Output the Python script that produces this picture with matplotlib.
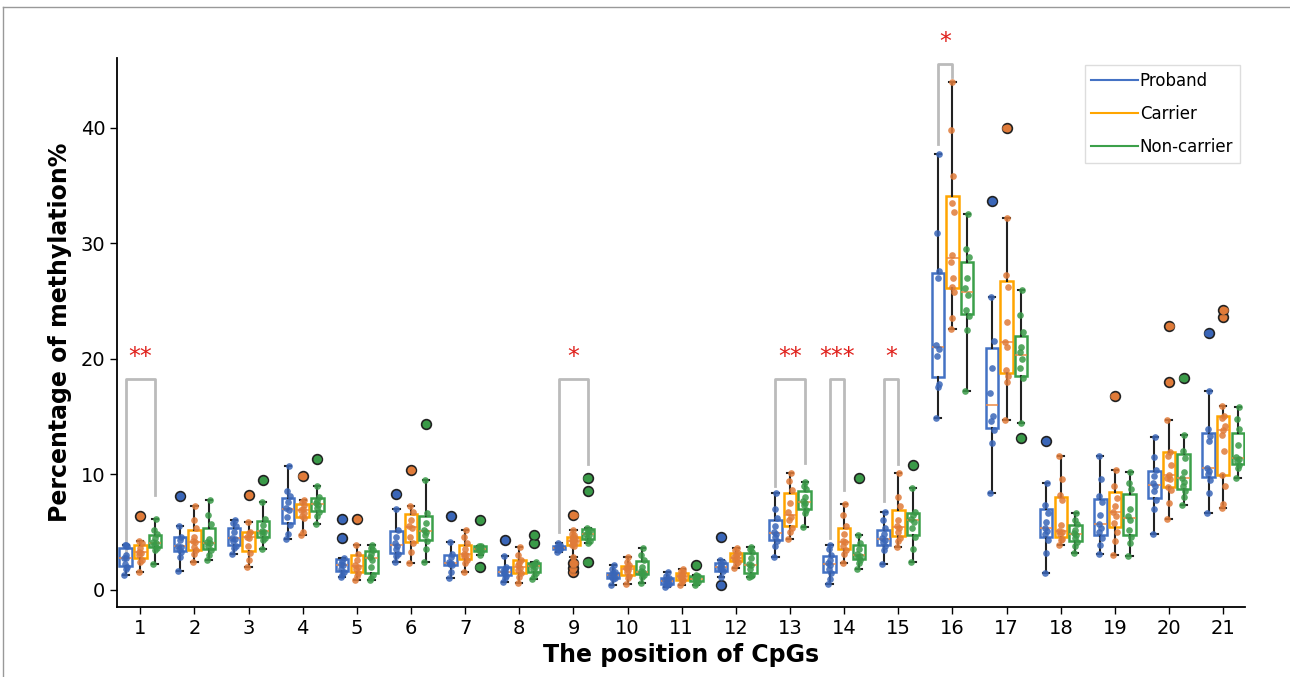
import matplotlib
matplotlib.use("Agg")
import matplotlib.pyplot as plt
from matplotlib.lines import Line2D
import numpy as np

CPGS = [str(i) for i in range(1, 22)]
GROUPS = ["Proband", "Carrier", "Non-carrier"]

# methylation % per CpG, one list per sample group
PROBAND = [
    [1.3, 1.8, 2.0, 2.2, 2.7, 2.7, 3.0, 3.8, 3.9, 3.9],
    [1.6, 2.8, 3.3, 3.5, 3.7, 3.8, 4.3, 4.6, 5.5, 8.1],
    [3.1, 3.6, 3.8, 4.2, 4.4, 4.5, 5.0, 5.5, 5.8, 6.0],
    [4.4, 4.8, 5.6, 6.3, 6.9, 7.1, 7.6, 8.1, 8.5, 10.7],
    [1.1, 1.3, 1.5, 1.8, 2.1, 2.2, 2.5, 2.7, 4.5, 6.1],
    [2.4, 2.9, 3.1, 3.5, 3.8, 4.0, 4.6, 5.2, 7.0, 8.3],
    [1.0, 1.5, 2.1, 2.2, 2.3, 2.4, 2.8, 3.1, 4.1, 6.4],
    [0.7, 1.0, 1.2, 1.4, 1.5, 1.6, 1.8, 2.0, 2.9, 4.3],
    [3.3, 3.4, 3.5, 3.6, 3.6, 3.7, 3.8, 3.9, 4.0],
    [0.4, 0.9, 1.0, 1.1, 1.2, 1.3, 1.4, 1.5, 1.8, 2.1],
    [0.2, 0.4, 0.5, 0.6, 0.7, 0.8, 0.9, 1.0, 1.2, 1.5],
    [0.4, 1.1, 1.6, 1.8, 1.9, 2.0, 2.2, 2.4, 2.6, 4.6],
    [2.8, 3.8, 4.2, 4.6, 4.8, 5.0, 5.5, 6.2, 7.0, 8.4],
    [0.5, 0.9, 1.4, 1.8, 2.1, 2.3, 2.6, 3.0, 3.5, 3.9],
    [2.2, 3.4, 3.8, 4.1, 4.3, 4.5, 4.8, 5.3, 6.0, 6.7],
    [14.9, 17.5, 17.8, 20.2, 20.8, 21.2, 27.0, 27.6, 30.9, 37.7],
    [8.4, 12.7, 13.8, 14.6, 15.0, 17.0, 19.2, 21.5, 25.3, 33.6],
    [1.4, 3.2, 4.3, 4.8, 5.1, 5.3, 5.9, 6.6, 7.3, 9.2, 12.9],
    [3.1, 3.9, 4.5, 5.0, 5.3, 5.7, 6.5, 7.6, 8.1, 9.6, 11.6],
    [4.8, 7.0, 7.8, 8.5, 9.0, 9.2, 9.8, 10.4, 11.5, 13.2],
    [6.6, 8.4, 9.5, 10.0, 10.3, 10.5, 12.9, 13.3, 13.9, 17.2, 22.2],
]
CARRIER = [
    [1.5, 2.4, 2.6, 3.0, 3.2, 3.3, 3.6, 4.0, 4.2, 6.4],
    [2.4, 3.1, 3.4, 3.7, 4.1, 4.2, 4.6, 5.3, 6.0, 7.2],
    [2.0, 2.6, 3.2, 3.8, 4.5, 4.6, 4.9, 5.0, 5.9, 8.2],
    [4.7, 5.0, 6.2, 6.4, 6.6, 6.9, 7.0, 7.3, 7.6, 7.8, 9.8],
    [0.8, 1.2, 1.4, 1.8, 2.0, 2.1, 2.6, 3.1, 3.9, 6.1],
    [2.3, 3.3, 4.0, 4.6, 5.3, 5.5, 6.0, 6.7, 7.2, 10.4],
    [1.5, 2.3, 2.6, 2.9, 3.0, 3.1, 3.5, 4.0, 4.6, 5.2],
    [0.6, 1.1, 1.4, 1.7, 1.9, 2.1, 2.3, 2.6, 3.0, 3.7],
    [1.5, 1.9, 2.3, 2.8, 3.8, 3.9, 4.0, 4.1, 4.2, 4.3, 4.3, 4.4, 4.5, 4.6, 4.7, 4.8, 5.2, 6.5],
    [0.5, 1.0, 1.2, 1.5, 1.7, 1.9, 2.0, 2.1, 2.4, 2.8],
    [0.4, 0.7, 0.8, 1.0, 1.1, 1.2, 1.3, 1.5, 1.6, 1.8],
    [1.9, 2.2, 2.4, 2.6, 2.7, 2.8, 3.0, 3.2, 3.4, 3.6],
    [4.4, 5.0, 5.3, 6.0, 6.3, 6.7, 7.5, 8.6, 9.4, 10.1],
    [2.3, 3.1, 3.4, 3.8, 4.1, 4.2, 4.8, 5.5, 6.5, 7.4],
    [3.7, 4.2, 4.5, 5.0, 5.3, 5.5, 6.0, 7.2, 8.0, 10.1],
    [22.6, 23.5, 25.8, 26.2, 27.0, 28.4, 29.0, 32.7, 33.5, 35.8, 39.8, 43.9],
    [14.7, 18.0, 18.5, 19.0, 21.0, 21.4, 23.2, 26.2, 27.2, 32.2, 40.0],
    [3.9, 4.3, 4.4, 4.8, 5.0, 5.1, 5.6, 7.8, 8.2, 9.6, 11.6],
    [3.0, 4.2, 5.0, 5.8, 6.4, 6.7, 7.2, 7.9, 9.0, 10.4, 16.8],
    [6.1, 7.5, 8.6, 8.9, 9.6, 9.7, 9.9, 10.8, 11.6, 11.9, 14.7, 18.0, 22.8],
    [7.1, 7.4, 9.0, 9.9, 12.0, 13.4, 13.8, 14.2, 14.9, 15.0, 15.9, 23.6, 24.2],
]
NONCARRIER = [
    [2.2, 3.4, 3.6, 3.9, 4.0, 4.1, 4.5, 4.8, 5.2, 6.1],
    [2.6, 3.0, 3.4, 3.8, 4.0, 4.1, 4.4, 5.7, 6.5, 7.8],
    [3.5, 4.3, 4.5, 4.9, 5.0, 5.1, 5.6, 6.1, 7.6, 9.5],
    [5.7, 6.4, 6.7, 7.1, 7.3, 7.5, 7.7, 8.0, 9.0, 11.3],
    [0.8, 1.0, 1.3, 2.0, 2.6, 2.8, 3.1, 3.4, 3.6, 3.9],
    [2.4, 3.5, 4.2, 4.7, 5.0, 5.2, 5.8, 6.6, 9.5, 14.3],
    [2.0, 3.0, 3.3, 3.4, 3.5, 3.6, 3.7, 3.8, 3.8, 6.0],
    [0.9, 1.2, 1.4, 1.8, 2.0, 2.1, 2.2, 2.4, 4.0, 4.7],
    [2.4, 4.0, 4.2, 4.5, 4.7, 4.8, 5.0, 5.2, 5.3, 8.5, 9.7],
    [0.6, 1.1, 1.3, 1.4, 1.5, 1.6, 2.0, 2.6, 3.0, 3.6],
    [0.4, 0.6, 0.7, 0.8, 0.9, 1.0, 1.1, 1.2, 1.3, 2.1],
    [1.1, 1.2, 1.3, 1.8, 2.1, 2.2, 2.7, 3.3, 3.5, 3.7],
    [5.4, 6.6, 6.9, 7.3, 7.5, 7.7, 8.0, 8.7, 9.0, 9.3],
    [1.8, 2.3, 2.6, 2.8, 2.9, 3.1, 3.5, 4.0, 4.7, 9.7],
    [2.4, 3.5, 4.6, 5.3, 5.9, 6.1, 6.5, 6.7, 8.8, 10.8],
    [17.2, 22.5, 23.7, 24.2, 25.5, 26.1, 27.0, 28.8, 29.5, 32.5],
    [13.1, 14.4, 18.3, 19.2, 20.0, 20.6, 21.0, 22.3, 23.8, 25.9],
    [3.2, 3.8, 4.1, 4.5, 4.7, 4.9, 5.2, 5.7, 6.0, 6.6],
    [2.9, 4.0, 4.6, 5.2, 6.0, 6.4, 7.0, 8.7, 9.2, 10.2],
    [7.3, 8.0, 8.5, 9.0, 9.3, 9.7, 10.2, 11.4, 12.0, 13.4, 18.3],
    [9.7, 10.5, 10.8, 11.1, 11.3, 11.5, 12.5, 13.9, 14.8, 15.8],
]

# significance brackets
SIG_CPG = [1, 9, 13, 14, 15, 16]
SIG_PAIR = [(0, 2), (0, 2), (0, 2), (0, 1), (0, 1), (0, 1)]
SIG_LEFT = [3.0, 5.0, 9.0, 4.5, 7.7, 38.6]
SIG_RIGHT = [8.2, 10.9, 11.0, 8.6, 10.9, 44.4]
SIG_TOP = [18.2, 18.2, 18.2, 18.2, 18.2, 45.5]
SIG_LABEL = ["**", "*", "**", "***", "*", "*"]

BOX_COLORS = ["#4472C4", "#FFA500", "#3CA04A"]
DOT_COLORS = ["#3A66B8", "#E07B39", "#3A9A48"]
OFFSETS = [-0.27, 0.0, 0.27]
JITTER = np.array([-0.03, 0.0, 0.03, -0.015, 0.015])

fig = plt.figure(figsize=(12.9, 6.77), dpi=100)
ax = fig.add_axes([0.0907, 0.1034, 0.8743, 0.8106])

x = np.arange(1, len(CPGS) + 1)
for g, data in enumerate([PROBAND, CARRIER, NONCARRIER]):
    pos = x + OFFSETS[g]
    ax.boxplot(data, positions=pos, widths=0.23, patch_artist=True, manage_ticks=False,
               boxprops=dict(facecolor="none", edgecolor=BOX_COLORS[g], lw=1.8),
               medianprops=dict(color="#EE8A45", lw=1.1),
               whiskerprops=dict(color="#222222", lw=1.5),
               capprops=dict(color="#222222", lw=1.5),
               flierprops=dict(marker="o", markerfacecolor=DOT_COLORS[g],
                               markeredgecolor="#222222", markersize=7, markeredgewidth=1.2),
               zorder=2)
    for i, vals in enumerate(data):
        jx = pos[i] + np.resize(JITTER, len(vals))
        ax.plot(jx, vals, "o", ms=4.8, color=DOT_COLORS[g], alpha=0.85, mew=0, zorder=3)

for cpg, pair, yl, yr, yt, lab in zip(SIG_CPG, SIG_PAIR, SIG_LEFT, SIG_RIGHT, SIG_TOP, SIG_LABEL):
    x0 = cpg + OFFSETS[pair[0]]
    x1 = cpg + OFFSETS[pair[1]]
    ax.plot([x0, x0, x1, x1], [yl, yt, yt, yr], color="#BBBBBB", lw=2, zorder=1,
            clip_on=False)
    ax.text((x0 + x1) / 2, yt + 0.9, lab, color="#E0201B", fontsize=17, ha="center",
            va="bottom", clip_on=False)

ax.set_xlim(0.57, 21.4)
ax.set_ylim(-1.5, 46)
ax.set_xticks(x, CPGS)
ax.set_yticks([0, 10, 20, 30, 40])
ax.tick_params(axis="both", labelsize=14, direction="out", length=5, width=1)
ax.spines[["top", "right"]].set_visible(False)
ax.spines[["left", "bottom"]].set_linewidth(1.3)
ax.set_xlabel("The position of CpGs", fontsize=17, fontweight="bold", labelpad=4)
ax.set_ylabel("Percentage of methylation%", fontsize=17, fontweight="bold", labelpad=6)

handles = [Line2D([0], [0], color=c, lw=1.5) for c in BOX_COLORS]
ax.legend(handles, GROUPS, loc="upper right", bbox_to_anchor=(0.9956, 0.987), fontsize=12,
          handlelength=2.8, handletextpad=0.1, labelspacing=0.9, framealpha=1,
          borderaxespad=0, edgecolor="#DDDDDD", fancybox=False)

# thin frame around the picture
fig.add_artist(Line2D([3 / 1290, 3 / 1290], [0, 1 - 7 / 677], color="#999999", lw=1))
fig.add_artist(Line2D([3 / 1290, 1], [1 - 7 / 677, 1 - 7 / 677], color="#999999", lw=1))

fig.savefig("out.png", dpi=100)
